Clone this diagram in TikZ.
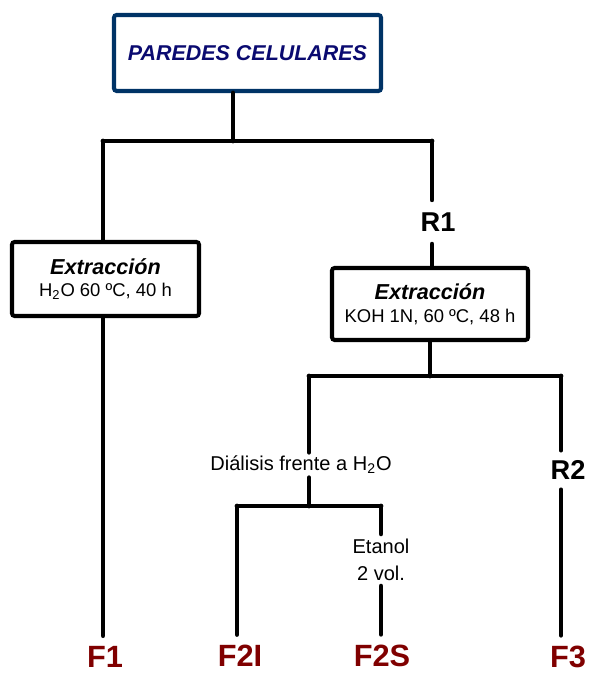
\documentclass[tikz,border=0pt]{standalone}
\usepackage{fontspec}
\setmainfont{Liberation Sans}
\usepackage{tikz}
\usetikzlibrary{positioning, calc}

\definecolor{bordeazul}{RGB}{0,51,102}
\definecolor{textoazul}{RGB}{10,10,112}
\definecolor{fraccion}{RGB}{128,0,0}

\begin{document}
\begin{tikzpicture}[
    stem/.style={line width=2.8pt, line cap=round},
    caja/.style={draw, line width=2.3pt, rounded corners=1.5pt, align=center, fill=white},
    title/.style={draw=bordeazul, line width=2.3pt, rounded corners=1.5pt, minimum width=5.34cm, minimum height=1.52cm, font=\fontsize{12.2}{14}\selectfont\bfseries\itshape, text=textoazul},
    res/.style={inner sep=0.25cm, font=\fontsize{15.5}{18}\selectfont\bfseries},
    frac/.style={inner sep=0.2cm, font=\fontsize{17.5}{20}\selectfont\bfseries, text=fraccion},
    nota/.style={inner sep=2pt, align=center, font=\fontsize{11.4}{15}\selectfont}
]
    \useasboundingbox (0,0) rectangle (11.78,13.46);

    \node[title] (pared) at (4.95,12.4) {PAREDES CELULARES};
    \coordinate (j1) at (4.66,10.64);
    \coordinate (j1l) at (2.06,10.64);
    \coordinate (j1r) at (8.64,10.64);

    \node[caja, minimum width=3.74cm, minimum height=1.48cm] (ext1) at (2.11,7.88)
        {{\fontsize{12.3}{14}\selectfont\bfseries\itshape Extracción}\\[1pt]
         {\fontsize{10.5}{12}\selectfont H\textsubscript{2}O 60 ºC, 40 h}};
    \node[res] (r1) at (8.76,9.02) {R1};
    \node[caja, minimum width=3.92cm, minimum height=1.44cm] (ext2) at (8.6,7.38)
        {{\fontsize{12.3}{14}\selectfont\bfseries\itshape Extracción}\\[1pt]
         {\fontsize{10.5}{12}\selectfont KOH 1N, 60 ºC, 48 h}};

    \coordinate (j2) at (8.6,5.94);
    \coordinate (j2l) at (6.18,5.94);
    \coordinate (j2r) at (11.22,5.94);
    \node[nota] (dial) at (6.02,4.16) {Diálisis frente a H\textsubscript{2}O};
    \node[res, inner sep=0.2cm] (r2) at (11.36,4.06) {R2};

    \coordinate (j3l) at (4.74,3.34);
    \coordinate (j3r) at (7.62,3.34);
    \node[nota, inner sep=3pt] (etanol) at (7.62,2.26) {Etanol\\2 vol.};

    \node[frac] (f1) at (2.1,0.33) {F1};
    \node[frac] (f2i) at (4.8,0.35) {F2I};
    \node[frac] (f2s) at (7.64,0.35) {F2S};
    \node[frac] (f3) at (11.36,0.33) {F3};

    % primera extraccion
    \draw[stem] (j1 |- pared.south) -- (j1);
    \draw[stem] (j1l) -- (j1r);
    \draw[stem] (j1l) -- (j1l |- ext1.north);
    \draw[stem] (j1l |- ext1.south) -- (j1l |- f1.north);
    \draw[stem] (j1r) -- (j1r |- r1.north);
    \draw[stem] (j1r |- r1.south) -- (j1r |- ext2.north);

    % segunda extraccion
    \draw[stem] (ext2.south) -- (j2);
    \draw[stem] (j2l) -- (j2r);
    \draw[stem] (j2l) -- (j2l |- dial.north);
    \draw[stem] (j2l |- dial.south) -- (j2l |- j3l);
    \draw[stem] (j3l) -- (j3r);
    \draw[stem] (j3l) -- (j3l |- f2i.north);
    \draw[stem] (j3r) -- (j3r |- etanol.north);
    \draw[stem] (j3r |- etanol.south) -- (j3r |- f2s.north);
    \draw[stem] (j2r) -- (j2r |- r2.north);
    \draw[stem] (j2r |- r2.south) -- (j2r |- f3.north);
\end{tikzpicture}
\end{document}
